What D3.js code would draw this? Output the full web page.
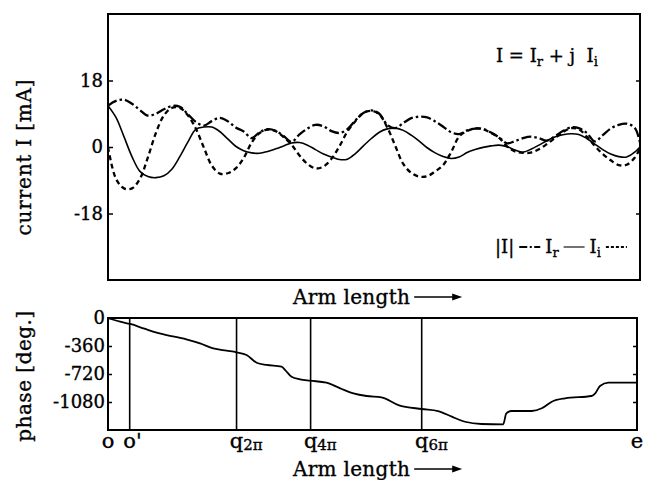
<!DOCTYPE html>
<html>
<head>
<meta charset="utf-8">
<script src="https://cdn.jsdelivr.net/npm/d3@7"></script>
<style>
  body { margin: 0; background: #fff; }
  svg { display: block; font-family: "DejaVu Serif", "Liberation Serif", serif; }
  svg text { fill: #000; stroke: #000; stroke-width: 0.35px; }
</style>
</head>
<body>
<svg id="chart" width="645" height="480"></svg>
<script>
// arm length samples, in % of the arm (o -> e)
const armPos = [0, 1.5, 3, 4.5, 6, 7.5, 9, 10.5, 12, 13.5, 15, 16.5, 18, 19.5, 21, 22.5, 24, 25.5, 27, 28.5,
    30, 31.5, 33, 34.5, 36, 37.5, 39, 40.5, 42, 43.5, 45, 46.5, 48, 49.5, 51, 52.5, 54, 55.5, 57, 58.5,
    60, 61.5, 63, 64.5, 66, 67.5, 69, 70.5, 72, 73.5, 75, 76.5, 78, 79.5, 81, 82.5, 84, 85.5, 87, 88.5,
    90, 91.5, 93, 94.5, 96, 97.5, 99, 100];

// current [mA]
const currentAbs = [11.2, 12.5, 12.8, 11.7, 10.0, 8.5, 9.0, 10.2, 11.1, 10.9,
    8.9, 6.8, 5.8, 7.0, 7.9, 7.0, 5.3, 4.2, 2.4, 4.0,
    4.8, 4.4, 3.0, 1.4, 3.4, 5.0, 6.0, 5.6, 4.3, 3.8,
    4.8, 7.2, 9.2, 9.9, 9.0, 6.0, 5.1, 6.5, 7.8, 8.2,
    8.0, 6.9, 5.5, 4.0, 3.5, 4.5, 5.0, 4.9, 3.9, 2.6,
    1.0, 1.6, 2.4, 2.8, 2.4, 1.7, 2.9, 4.3, 5.3, 5.1,
    3.8, 1.5, 3.2, 5.0, 6.0, 6.3, 5.2, 1.2];
const currentRe = [11.2, 8.0, 2.8, -2.6, -6.6, -8.0, -8.3, -7.8, -6.0, -2.6,
    1.3, 4.8, 5.4, 5.4, 4.2, 2.2, 0.2, -1.0, -1.6, -1.7,
    -1.2, -0.5, 0.3, 1.1, 1.2, 0.5, -0.7, -1.9, -2.7, -3.4,
    -3.3, -1.8, 0.3, 2.3, 4.0, 4.9, 5.1, 4.5, 3.2, 1.6,
    -0.2, -1.6, -2.6, -3.1, -2.7, -1.5, -0.7, -0.1, 0.3, 0.5,
    0.1, -0.8, -1.4, -0.6, 0.5, 1.7, 2.7, 3.3, 3.6, 3.4,
    2.3, 0.8, -0.7, -1.9, -2.6, -2.7, -1.4, 0.0];
const currentIm = [0, -8.6, -11.2, -11.2, -8.6, -2.8, 3.8, 8.5, 10.6, 10.6,
    8.6, 5.0, -0.1, -5.0, -7.2, -7.1, -5.8, -3.0, 1.2, 3.8,
    4.7, 4.3, 2.7, 0.6, -2.3, -4.6, -5.8, -5.3, -3.2, 0.2,
    4.2, 7.0, 9.2, 9.8, 8.8, 5.3, 0.3, -4.6, -7.0, -8.0,
    -7.9, -6.6, -4.9, -1.4, 2.8, 4.3, 5.0, 4.8, 3.8, 2.5,
    0.2, -1.2, -1.6, -1.5, -0.6, 0.8, 2.4, 4.0, 5.1, 4.8,
    2.8, 0.3, -1.9, -3.6, -4.9, -4.8, -2.9, -0.4];
const currentTicks = [-18, 0, 18];

// phase [deg.]
const phasePos = [0, 2.3, 4.2, 6.7, 9.2, 11.1, 14.8, 17.4, 19.9, 22.4,
    24.3, 26.2, 28.1, 30.0, 32.8, 33.5, 34.7, 36.3, 38.2, 41.3,
    43.9, 46.4, 48.9, 51.7, 54.9, 59.3, 62.4, 65.0, 67.5, 70.6,
    74.7, 75.3, 76.3, 80.1, 82.0, 83.9, 86.4, 91.4, 92.1, 93.0,
    94.6, 100];
const phaseDeg = [0, -48, -77, -133, -189, -219, -274, -326, -390, -420,
    -441, -476, -575, -604, -626, -669, -755, -788, -806, -832,
    -904, -969, -1003, -1020, -1119, -1170, -1196, -1269, -1334, -1363,
    -1367, -1226, -1196, -1196, -1161, -1076, -1033, -1003, -969, -875,
    -832, -832];
const phaseTicks = [-1080, -720, -360, 0];

// points along the arm
const markerPos = [0, 4.1, 24.3, 38.3, 59.3, 100];
const markerBase = ["o", "o'", "q", "q", "q", "e"];
const markerSub = ["", "", "2π", "4π", "6π", ""];

const legendBase = ["|I|", "I", "I"];
const legendSub = ["", "r", "i"];

const svg = d3.select("#chart");
svg.append("rect").attr("width", 645).attr("height", 480).attr("fill", "#fff");

const topBox = { left: 108, right: 640, top: 14, bottom: 280 };
const botBox = { left: 108, right: 637, top: 318, bottom: 430 };

const xTop = d3.scaleLinear().domain([0, 100]).range([topBox.left, topBox.right]);
const yTop = d3.scaleLinear().domain([-36, 36]).range([topBox.bottom, topBox.top]);
const xBot = d3.scaleLinear().domain([0, 100]).range([botBox.left, botBox.right]);
const yBot = d3.scaleLinear().domain([-1440, 0]).range([botBox.bottom, botBox.top]);

const styles = [
    { values: currentAbs, dash: "10,3,2.5,3", keyDash: "8,2.5,2,2.5", width: 2.3 },
    { values: currentRe, dash: null, keyDash: null, width: 1.6 },
    { values: currentIm, dash: "5,3.5", keyDash: "3,2", width: 2.3 }
];

// ---- top panel ----
svg.append("clipPath").attr("id", "clipTop")
    .append("rect")
    .attr("x", topBox.left).attr("y", topBox.top)
    .attr("width", topBox.right - topBox.left).attr("height", topBox.bottom - topBox.top);

const lineTop = d3.line()
    .x((d, i) => xTop(armPos[i]))
    .y(d => yTop(d))
    .curve(d3.curveCatmullRom.alpha(0.5));

styles.forEach(s => {
    svg.append("path")
        .attr("clip-path", "url(#clipTop)")
        .attr("d", lineTop(s.values))
        .attr("fill", "none")
        .attr("stroke", "#000")
        .attr("stroke-width", s.width)
        .attr("stroke-dasharray", s.dash);
});

const axLeftTop = svg.append("g")
    .attr("transform", `translate(${topBox.left},0)`)
    .call(d3.axisLeft(yTop).tickValues(currentTicks).tickSize(-5).tickFormat(d => String(d)));
axLeftTop.select(".domain").remove();
axLeftTop.selectAll("line").attr("stroke-width", 1.5);
axLeftTop.selectAll("text")
    .attr("x", -5).attr("font-size", 18).attr("font-family", "DejaVu Serif");

svg.append("g")
    .attr("transform", `translate(${topBox.right},0)`)
    .call(d3.axisRight(yTop).tickValues([-18, 18]).tickSize(-4).tickFormat(""))
    .call(g => g.select(".domain").remove())
    .selectAll("line").attr("stroke-width", 1.5);

svg.append("rect")
    .attr("x", topBox.left).attr("y", topBox.top)
    .attr("width", topBox.right - topBox.left).attr("height", topBox.bottom - topBox.top)
    .attr("fill", "none").attr("stroke", "#000").attr("stroke-width", 2);

svg.append("text")
    .attr("transform", `translate(31,${(topBox.top + topBox.bottom) / 2 + 10}) rotate(-90)`)
    .attr("text-anchor", "middle")
    .attr("font-size", 20)
    .attr("letter-spacing", 0.8)
    .text("current I [mA]");

// equation
const eq = svg.append("text").attr("x", 496).attr("y", 62).attr("font-size", 18)
    .attr("xml:space", "preserve");
eq.append("tspan").text("I = I");
eq.append("tspan").attr("font-size", 13).attr("dy", 4).text("r");
eq.append("tspan").attr("dy", -4).text(" + j  I");
eq.append("tspan").attr("font-size", 13).attr("dy", 4).text("i");

// legend
let lx = 495;
const ly = 253;
styles.forEach((s, i) => {
    const t = svg.append("text").attr("x", lx).attr("y", ly).attr("font-size", 18);
    t.append("tspan").text(legendBase[i]);
    if (legendSub[i]) t.append("tspan").attr("font-size", 13).attr("dy", 4).text(legendSub[i]);
    lx += t.node().getComputedTextLength() + 5;
    svg.append("line")
        .attr("x1", lx).attr("x2", lx + 21)
        .attr("y1", ly - 6).attr("y2", ly - 6)
        .attr("stroke", "#000")
        .attr("stroke-width", s.width - 0.5)
        .attr("stroke-dasharray", s.keyDash);
    lx += 26;
});

// x title with arrow
function armTitle(x, y) {
    const t = svg.append("text").attr("x", x).attr("y", y).attr("font-size", 20)
        .attr("letter-spacing", 0.3).text("Arm length");
    const end = x + t.node().getComputedTextLength() + 4;
    svg.append("line")
        .attr("x1", end).attr("x2", end + 40)
        .attr("y1", y - 7).attr("y2", y - 7)
        .attr("stroke", "#000").attr("stroke-width", 1.5);
    svg.append("path")
        .attr("d", `M${end + 48},${y - 7} L${end + 38},${y - 10.5} L${end + 38},${y - 3.5} Z`)
        .attr("fill", "#000");
}
armTitle(293, 304);

// ---- bottom panel ----
svg.selectAll(".marker")
    .data(markerPos.slice(1, -1))
    .enter()
    .append("line")
    .attr("class", "marker")
    .attr("x1", d => xBot(d)).attr("x2", d => xBot(d))
    .attr("y1", botBox.top).attr("y2", botBox.bottom)
    .attr("stroke", "#000").attr("stroke-width", 1.6);

const linePhase = d3.line()
    .x((d, i) => xBot(phasePos[i]))
    .y(d => yBot(d))
    .curve(d3.curveMonotoneX);

svg.append("path")
    .attr("d", linePhase(phaseDeg))
    .attr("fill", "none")
    .attr("stroke", "#000")
    .attr("stroke-width", 1.8);

const axLeftBot = svg.append("g")
    .attr("transform", `translate(${botBox.left},0)`)
    .call(d3.axisLeft(yBot).tickValues(phaseTicks).tickSize(-4).tickFormat(d => String(d)));
axLeftBot.select(".domain").remove();
axLeftBot.selectAll("line").attr("stroke-width", 1.5);
axLeftBot.selectAll("text")
    .attr("x", -3).attr("font-size", 18).attr("font-family", "DejaVu Serif");

svg.append("g")
    .attr("transform", `translate(${botBox.right},0)`)
    .call(d3.axisRight(yBot).tickValues([-1080, -720, -360]).tickSize(-4).tickFormat(""))
    .call(g => g.select(".domain").remove())
    .selectAll("line").attr("stroke-width", 1.5);

svg.append("rect")
    .attr("x", botBox.left).attr("y", botBox.top)
    .attr("width", botBox.right - botBox.left).attr("height", botBox.bottom - botBox.top)
    .attr("fill", "none").attr("stroke", "#000").attr("stroke-width", 2);

// marker labels: first letter centred on its position
markerPos.forEach((p, i) => {
    const t = svg.append("text").attr("y", 448).attr("font-size", 21);
    t.append("tspan").text(markerBase[i]);
    if (markerSub[i]) t.append("tspan").attr("font-size", 15).attr("dy", 2).text(markerSub[i]);
    const half = t.node().getSubStringLength(0, 1) / 2;
    t.attr("x", xBot(p) - half);
});

svg.append("text")
    .attr("transform", `translate(31,${(botBox.top + botBox.bottom) / 2 + 2}) rotate(-90)`)
    .attr("text-anchor", "middle")
    .attr("font-size", 20)
    .attr("letter-spacing", 0.5)
    .text("phase [deg.]");

armTitle(293, 476);
</script>
</body>
</html>
